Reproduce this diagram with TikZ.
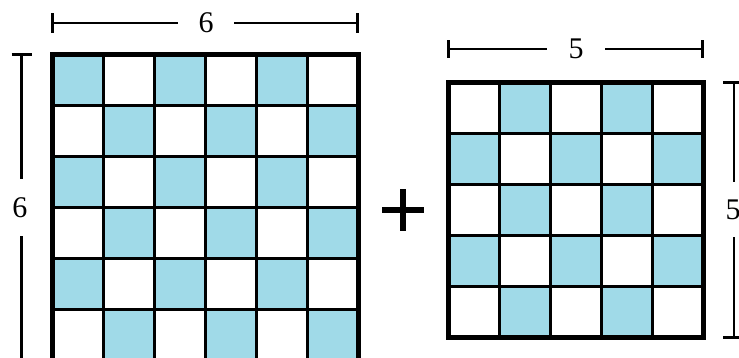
\documentclass[tikz,border=0pt]{standalone}
\usepackage{fontspec}
\setmainfont{Liberation Serif}
\definecolor{cellblue}{RGB}{160,218,232}
\tikzset{
  gridline/.style={line width=3pt, black},
  gridframe/.style={line width=5pt, black, line cap=rect},
  dimline/.style={line width=2.6pt, black},
  dimtick/.style={line width=2.8pt, black},
  dimlabel/.style={fill=white, inner sep=0pt, minimum width=56pt, minimum height=30pt, font=\fontsize{30}{30}\selectfont},
  plusbar/.style={line width=6pt, black},
}
\begin{document}
\begin{tikzpicture}[x=1pt, y=-1pt]
\useasboundingbox (0,0) rectangle (739,358);
% ---------- left grid 6x6 ----------
\def\cs{51}
\foreach \i in {0,...,5} {
  \foreach \j in {0,...,5} {
    \pgfmathtruncatemacro{\parity}{mod(\i+\j,2)}
    \ifnum\parity=0
      \fill[cellblue] ({52.5+\j*\cs},{54.5+\i*\cs}) rectangle ++(\cs,\cs);
    \fi
  }
}
\foreach \k in {1,...,5} {
  \draw[gridline] ({52.5+\k*\cs},54.5) -- ({52.5+\k*\cs},360.5);
  \draw[gridline] (52.5,{54.5+\k*\cs}) -- (358.5,{54.5+\k*\cs});
}
\draw[gridframe] (52.5,54.5) rectangle (358.5,360.5);
% ---------- right grid 5x5 ----------
\foreach \i in {0,...,4} {
  \foreach \j in {0,...,4} {
    \pgfmathtruncatemacro{\parity}{mod(\i+\j,2)}
    \ifnum\parity=1
      \fill[cellblue] ({448.5+\j*\cs},{82.5+\i*\cs}) rectangle ++(\cs,\cs);
    \fi
  }
}
\foreach \k in {1,...,4} {
  \draw[gridline] ({448.5+\k*\cs},82.5) -- ({448.5+\k*\cs},337.5);
  \draw[gridline] (448.5,{82.5+\k*\cs}) -- (703.5,{82.5+\k*\cs});
}
\draw[gridframe] (448.5,82.5) rectangle (703.5,337.5);
% ---------- dimension: left top ----------
\coordinate (lta) at (52.5,23);
\coordinate (ltb) at (357.5,23);
\draw[dimline] (lta) -- (ltb);
\draw[dimtick] ([yshift=-10pt]lta) -- ([yshift=10pt]lta);
\draw[dimtick] ([yshift=-10pt]ltb) -- ([yshift=10pt]ltb);
\node[dimlabel] (ltl) at (206,23) {6};
% ---------- dimension: left side ----------
\coordinate (lsa) at (21.5,54.5);
\coordinate (lsb) at (21.5,360.5);
\draw[dimline] (lsa) -- (lsb);
\draw[dimtick] ([xshift=-10pt]lsa) -- ([xshift=10pt]lsa);
\draw[dimtick] ([xshift=-10pt]lsb) -- ([xshift=10pt]lsb);
\node[dimlabel, minimum width=30pt, minimum height=57pt] (lsl) at (20,207.5) {6};
% ---------- dimension: right top ----------
\coordinate (rta) at (448.5,49);
\coordinate (rtb) at (702.5,49);
\draw[dimline] (rta) -- (rtb);
\draw[dimtick] ([yshift=-9pt]rta) -- ([yshift=9pt]rta);
\draw[dimtick] ([yshift=-9pt]rtb) -- ([yshift=9pt]rtb);
\node[dimlabel, minimum width=58pt] (rtl) at (576,49) {5};
% ---------- dimension: right side ----------
\coordinate (rsa) at (734,82.5);
\coordinate (rsb) at (734,337.5);
\draw[dimline] (rsa) -- (rsb);
\draw[dimtick] ([xshift=-11pt]rsa) -- ([xshift=11pt]rsa);
\draw[dimtick] ([xshift=-11pt]rsb) -- ([xshift=11pt]rsb);
\node[dimlabel, minimum width=30pt, minimum height=55pt] (rsl) at (733,209.5) {5};
% ---------- plus sign ----------
\coordinate (pc) at (403,210);
\draw[plusbar] ([xshift=-21pt]pc) -- ([xshift=21pt]pc);
\draw[plusbar] ([yshift=-21pt]pc) -- ([yshift=21pt]pc);
\end{tikzpicture}
\end{document}
